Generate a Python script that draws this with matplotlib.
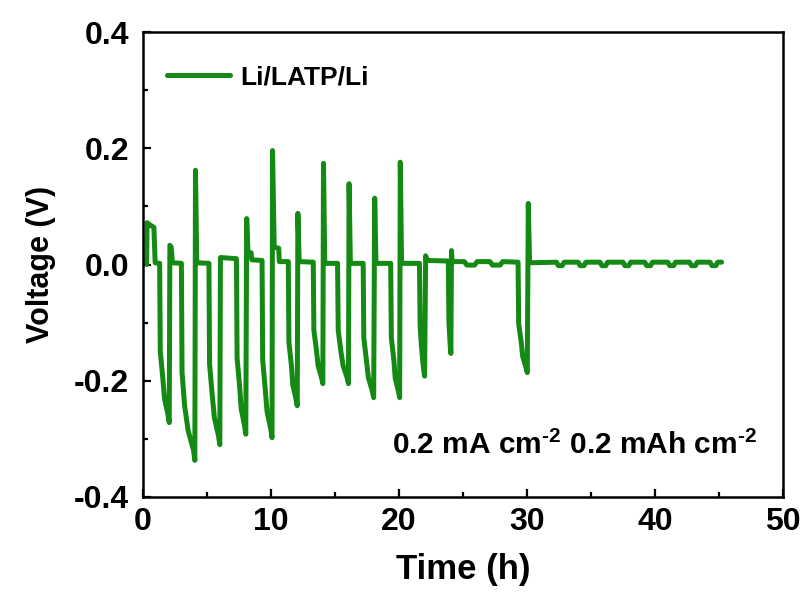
import matplotlib
matplotlib.use("Agg")
import matplotlib.pyplot as plt
from matplotlib.ticker import MultipleLocator

plt.rcParams['font.family'] = ['Liberation Sans', 'DejaVu Sans']
plt.rcParams['font.weight'] = 'bold'
plt.rcParams['mathtext.fontset'] = 'custom'
plt.rcParams['mathtext.rm'] = 'Liberation Sans:bold'
plt.rcParams['mathtext.bf'] = 'Liberation Sans:bold'
plt.rcParams['mathtext.it'] = 'Liberation Sans:bold:italic'
plt.rcParams['mathtext.default'] = 'bf'

series_label = "Li/LATP/Li"
annotation = r"0.2 mA cm$^{\text{-2}}$ 0.2 mAh cm$^{\text{-2}}$"

# Time (h)
time_h = [
    0.28, 0.32, 0.55, 0.85, 0.95, 1.30,
    1.35, 1.55, 1.68, 1.95, 2.05, 2.10, 2.20, 2.30, 3.00,
    3.05, 3.25, 3.53, 3.95, 4.05, 4.10, 4.20, 5.15,
    5.20, 5.40, 5.58, 5.90, 6.00, 6.05, 7.30,
    7.35, 7.55, 7.67, 7.93, 8.03, 8.10, 8.20, 8.45, 8.50, 9.30,
    9.35, 9.55, 9.69, 9.98, 10.08, 10.12, 10.25, 10.60, 10.65, 11.35,
    11.40, 11.60, 11.70, 11.95, 12.05, 12.10, 12.20, 13.30,
    13.35, 13.55, 13.68, 13.95, 14.05, 14.10, 14.20, 15.20,
    15.25, 15.45, 15.63, 15.95, 16.05, 16.10, 16.20, 17.20,
    17.25, 17.45, 17.61, 17.92, 18.02, 18.10, 18.20, 19.35,
    19.40, 19.60, 19.70, 19.95, 20.05, 20.10, 20.20, 21.60,
    21.65, 21.75, 21.85, 21.93, 22.00, 22.08, 22.20, 23.85,
    23.90, 24.00, 24.05, 24.10, 24.15,
    25.10, 25.30, 25.90, 26.10, 27.10, 27.30, 27.90, 28.10, 29.30,
    29.35, 29.55, 29.66, 29.92, 30.02, 30.10, 30.20,
    32.30, 32.45, 32.75, 32.90, 34.00, 34.15, 34.45, 34.60,
    35.70, 35.85, 36.15, 36.30, 37.50, 37.65, 37.95, 38.10,
    39.20, 39.35, 39.65, 39.80, 41.00, 41.15, 41.45, 41.60,
    42.70, 42.85, 43.15, 43.30, 44.30, 44.45, 44.75, 44.90, 45.20,
]

# Voltage (V)
voltage_v = [
    0.000, 0.072, 0.068, 0.064, 0.003, 0.002,
    -0.150, -0.196, -0.231, -0.258, -0.272, 0.033, 0.030, 0.003, 0.002,
    -0.185, -0.243, -0.286, -0.320, -0.337, 0.162, 0.003, 0.002,
    -0.171, -0.223, -0.264, -0.295, -0.310, 0.012, 0.010,
    -0.161, -0.210, -0.248, -0.277, -0.292, 0.079, 0.022, 0.020, 0.008, 0.007,
    -0.164, -0.215, -0.253, -0.283, -0.298, 0.196, 0.030, 0.028, 0.005, 0.005,
    -0.134, -0.175, -0.207, -0.231, -0.243, 0.088, 0.005, 0.004,
    -0.113, -0.148, -0.174, -0.195, -0.205, 0.174, 0.002, 0.002,
    -0.113, -0.148, -0.174, -0.195, -0.205, 0.139, 0.002, 0.002,
    -0.126, -0.165, -0.195, -0.218, -0.229, 0.114, 0.002, 0.002,
    -0.126, -0.165, -0.195, -0.218, -0.229, 0.176, 0.002, 0.002,
    -0.106, -0.140, -0.165, -0.182, -0.192, 0.015, 0.007, 0.006,
    -0.100, -0.140, -0.153, 0.024, 0.005,
    0.005, -0.001, -0.001, 0.005, 0.005, -0.001, -0.001, 0.005, 0.004,
    -0.102, -0.134, -0.158, -0.177, -0.186, 0.105, 0.003,
    0.004, -0.002, -0.002, 0.004, 0.004, -0.002, -0.002, 0.004,
    0.004, -0.002, -0.002, 0.004, 0.004, -0.002, -0.002, 0.004,
    0.004, -0.002, -0.002, 0.004, 0.004, -0.002, -0.002, 0.004,
    0.004, -0.002, -0.002, 0.004, 0.004, -0.002, -0.002, 0.004, 0.004,
]

xticks = [0, 10, 20, 30, 40, 50]
yticks = [-0.4, -0.2, 0.0, 0.2, 0.4]

fig = plt.figure(figsize=(8.07, 5.94), dpi=100)
ax = fig.add_axes([0.1772, 0.1633, 0.7931, 0.7828])

ax.plot(time_h, voltage_v, color='#148a14', lw=3.6, label=series_label,
        solid_joinstyle='round', solid_capstyle='round')

ax.set_xlim(0, 50)
ax.set_ylim(-0.4, 0.4)
ax.set_xticks(xticks)
ax.set_yticks(yticks)
ax.set_xticklabels([str(v) for v in xticks])
ax.set_yticklabels([f"{v:.1f}" for v in yticks])
ax.xaxis.set_minor_locator(MultipleLocator(5))
ax.yaxis.set_minor_locator(MultipleLocator(0.1))
ax.tick_params(which='both', direction='in', width=1.6)
ax.tick_params(which='major', length=6, labelsize=23)
ax.tick_params(axis='y', which='major', pad=10)
ax.tick_params(axis='x', which='major', pad=7)
ax.tick_params(which='minor', length=3.5)
for lab in ax.get_xticklabels() + ax.get_yticklabels():
    lab.set_fontweight('bold')
for sp in ax.spines.values():
    sp.set_linewidth(1.8)

ax.set_xlabel("Time (h)", fontsize=25, fontweight='bold', labelpad=12)
ax.set_ylabel("Voltage (V)", fontsize=22, fontweight='bold', labelpad=13)

leg = ax.legend(loc='upper left', bbox_to_anchor=(0.0, 0.98), frameon=False,
                handlelength=2.4, handletextpad=0.4,
                prop={'size': 19, 'weight': 'bold'})

ax.text(0.959, 0.11, annotation, transform=ax.transAxes, ha='right',
        va='center', fontsize=21.5, fontweight='bold')

fig.savefig("out.png", dpi=100)
